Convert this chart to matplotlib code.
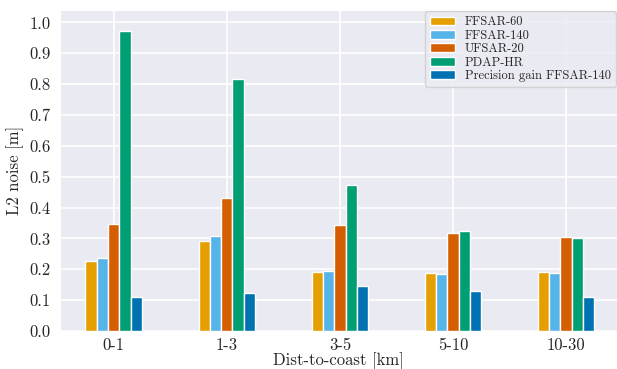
import matplotlib
matplotlib.use("Agg")
import matplotlib.pyplot as plt
import seaborn as sns
import numpy as np

categories = ["0-1", "1-3", "3-5", "5-10", "10-30"]
series_names = ["FFSAR-60", "FFSAR-140", "UFSAR-20", "PDAP-HR", "Precision gain FFSAR-140"]
ffsar60 = [0.226, 0.292, 0.192, 0.188, 0.192]
ffsar140 = [0.237, 0.308, 0.196, 0.186, 0.189]
ufsar20 = [0.348, 0.432, 0.345, 0.318, 0.304]
pdaphr = [0.972, 0.818, 0.474, 0.324, 0.300]
gain140 = [0.110, 0.123, 0.147, 0.130, 0.111]
colors = ["#E69F00", "#56B4E9", "#D55E00", "#009E73", "#0072B2"]

sns.set_style("darkgrid")
plt.rcParams['font.family'] = ['cmr10', 'DejaVu Serif']
plt.rcParams['mathtext.fontset'] = 'cm'
plt.rcParams['axes.formatter.use_mathtext'] = True

fig = plt.figure(figsize=(6.17, 3.69), dpi=100)
ax = fig.add_axes([60/617, 1-331/369, 557/617, 321/369])

x = np.arange(len(categories))
width = 0.1
data = [ffsar60, ffsar140, ufsar20, pdaphr, gain140]
for i, (vals, name, c) in enumerate(zip(data, series_names, colors)):
    ax.bar(x + (i - 2) * width, vals, width, label=name, color=c,
           edgecolor="white", linewidth=1.0, zorder=3)

ax.set_xticks(x)
ax.set_xticklabels(categories, fontsize=12)
ax.set_yticks(np.arange(0, 1.01, 0.1))
ax.set_yticklabels([f"{v:.1f}" for v in np.arange(0, 1.01, 0.1)], fontsize=12)
ax.set_ylim(0, 1.04)
ax.set_xlim(-0.475, 4.45)
ax.set_xlabel("Dist-to-coast [km]", fontsize=12, labelpad=-1)
ax.set_ylabel("L2 noise [m]", fontsize=12)
ax.tick_params(axis='x', pad=1.5)
ax.tick_params(axis='y', pad=3)
ax.grid(True, color="white", linewidth=1.2, zorder=0)
ax.set_axisbelow(True)
ax.legend(loc="upper right", fontsize=9, handlelength=2.0, labelspacing=0.1,
          borderpad=0.4, borderaxespad=0.1, frameon=True)

fig.savefig("out.png", dpi=100)
